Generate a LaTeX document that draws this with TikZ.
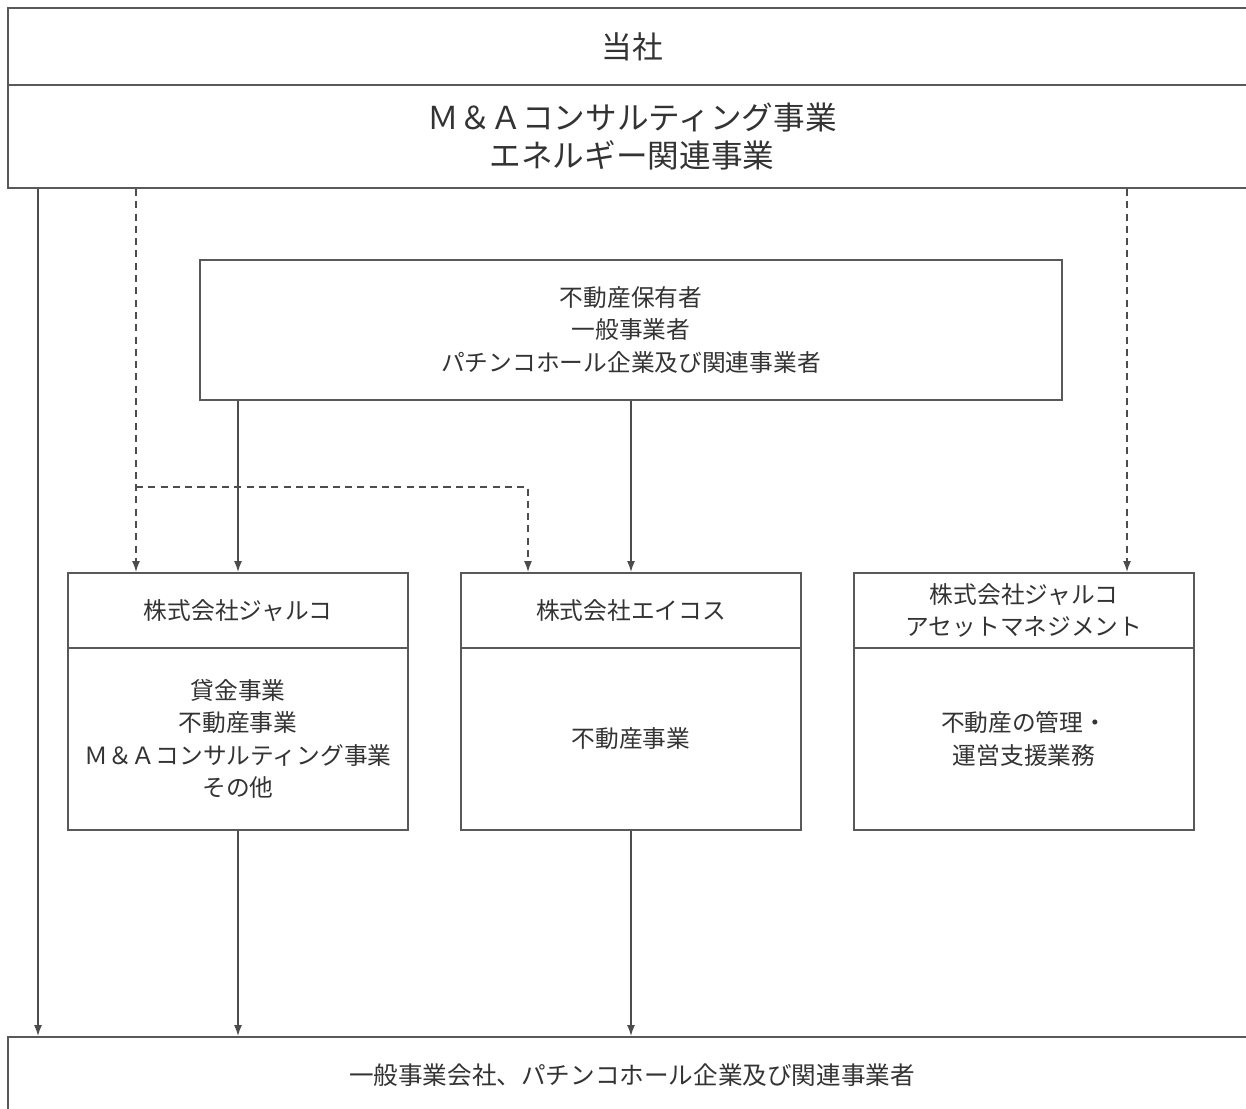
\documentclass[tikz,border=0pt]{standalone}
\usepackage{fontspec}
\setmainfont{Noto Sans CJK JP}
\usetikzlibrary{
  arrows.meta,
  calc
}

\begin{document}
\begin{tikzpicture}[x=0.02cm,y=-0.02cm,
	box/.style={draw=black!65,line width=1.1pt,rectangle,align=center,inner sep=0pt,text=black!80,
		font=\fontsize{13.5}{18.5}\selectfont},
	arr/.style={draw=black!70,line width=0.9pt,-{Latex[length=2.2mm,width=1.6mm]}},
	dasharr/.style={arr,dash pattern=on 4pt off 3pt},
]
	\useasboundingbox (0,0) rectangle (1246,1108);
	\node[box,minimum width=24.96cm,minimum height=1.54cm,font=\fontsize{17.5}{21}\selectfont] (parent) at (632,46.5) {当社};
	\node[box,minimum width=24.96cm,minimum height=2.06cm,font=\fontsize{18}{21.6}\selectfont] (biz) at (632,136.5) {Ｍ＆Ａコンサルティング事業\\エネルギー関連事業};
	\node[box,minimum width=17.24cm,minimum height=2.8cm] (owner) at (631,330) {不動産保有者\\一般事業者\\パチンコホール企業及び関連事業者};
	\node[box,minimum width=6.8cm,minimum height=1.5cm] (jalco) at (238,610.5) {株式会社ジャルコ};
	\node[box,minimum width=6.8cm,minimum height=3.64cm] (jalcobody) at (238,739) {貸金事業\\不動産事業\\Ｍ＆Ａコンサルティング事業\\その他};
	\node[box,minimum width=6.8cm,minimum height=1.5cm] (aicos) at (631,610.5) {株式会社エイコス};
	\node[box,minimum width=6.8cm,minimum height=3.64cm] (aicosbody) at (631,739) {不動産事業};
	\node[box,minimum width=6.8cm,minimum height=1.5cm] (am) at (1024,610.5) {株式会社ジャルコ\\アセットマネジメント};
	\node[box,minimum width=6.8cm,minimum height=3.64cm] (ambody) at (1024,739) {不動産の管理・\\運営支援業務};
	\node[box,minimum width=24.96cm,minimum height=1.52cm,font=\fontsize{14}{18}\selectfont] (client) at (632,1075) {一般事業会社、パチンコホール企業及び関連事業者};
	\coordinate (xa) at (38,0);
	\coordinate (xb) at (136,0);
	\coordinate (xc) at (528,0);
	\coordinate (xd) at (1127,0);
	\coordinate (yb) at (0,487);
	\draw[arr] (biz.south -| xa) -- (client.north -| xa);
	\draw[dasharr] (biz.south -| xb) -- (jalco.north -| xb);
	\draw[dasharr] (xb |- yb) -- (xc |- yb) -- (aicos.north -| xc);
	\draw[dasharr] (biz.south -| xd) -- (am.north -| xd);
	\draw[arr] (owner.south -| jalco) -- (jalco.north);
	\draw[arr] (owner.south -| aicos) -- (aicos.north);
	\draw[arr] (jalcobody.south) -- (client.north -| jalcobody);
	\draw[arr] (aicosbody.south) -- (client.north -| aicosbody);
\end{tikzpicture}
\end{document}
